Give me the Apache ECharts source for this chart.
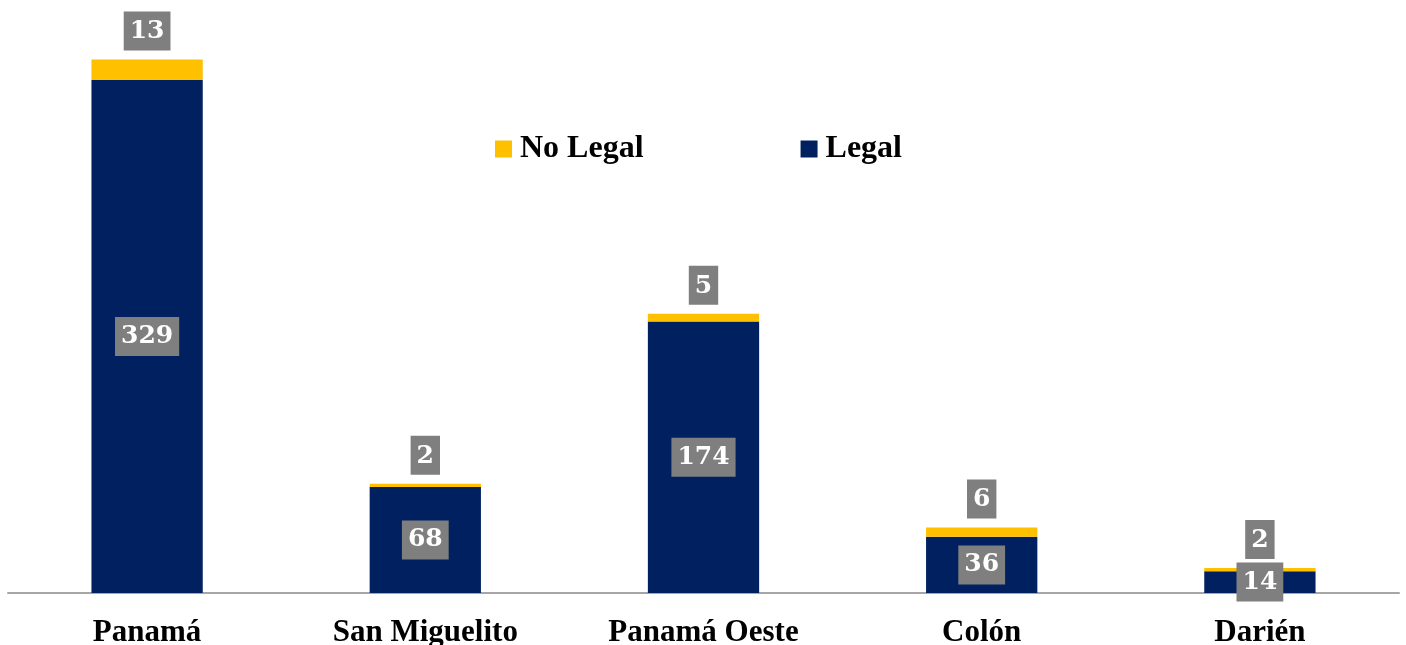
<!DOCTYPE html>
<html>
<head>
<meta charset="utf-8">
<script src="https://cdn.jsdelivr.net/npm/echarts@6/dist/echarts.min.js"></script>
<style>html,body{margin:0;padding:0;background:#fff;}#c{width:1406px;height:645px;}</style>
</head>
<body>
<div id="c"></div>
<script>
const categories = ['Panamá', 'San Miguelito', 'Panamá Oeste', 'Colón', 'Darién'];
const legalValues = [329, 68, 174, 36, 14];
const noLegalValues = [13, 2, 5, 6, 2];
const seriesNames = ['Legal', 'No Legal'];
const legendOrder = ['No Legal', 'Legal'];

const labelFont = 'DejaVu Serif';
const textFont = 'Liberation Serif';

const chart = echarts.init(document.getElementById('c'), null, {renderer: 'canvas'});
const boxLabel = {
  show: true,
  color: '#fff',
  fontFamily: labelFont,
  fontWeight: 'bold',
  fontSize: 25,
  lineHeight: 25,
  backgroundColor: '#7F7F7F',
  padding: [8, 6, 6, 6]
};
chart.setOption({
  animation: false,
  grid: {left: 8, right: 7, top: 47, bottom: 52, containLabel: false, outerBoundsMode: 'none'},
  legend: {
    data: legendOrder,
    left: 490,
    top: 128,
    icon: 'rect',
    itemWidth: 17,
    itemHeight: 17,
    itemGap: 157,
    textStyle: {fontFamily: textFont, fontWeight: 'bold', fontSize: 32, color: '#000', lineHeight: 32, padding: [0, 0, 0, 3]}
  },
  xAxis: {
    type: 'category',
    data: categories,
    axisLine: {show: true, lineStyle: {color: '#A6A6A6', width: 2}},
    axisTick: {show: false},
    axisLabel: {fontFamily: textFont, fontWeight: 'bold', fontSize: 31, color: '#000', margin: 24, interval: 0}
  },
  yAxis: {
    type: 'value',
    min: 0,
    max: 350,
    show: false,
    splitLine: {show: false}
  },
  series: [
    {
      name: seriesNames[0],
      type: 'bar',
      stack: 'total',
      data: legalValues,
      barWidth: '40%',
      itemStyle: {color: '#002060'},
      label: Object.assign({}, boxLabel, {position: 'inside'})
    },
    {
      name: seriesNames[1],
      type: 'bar',
      stack: 'total',
      data: noLegalValues,
      barWidth: '40%',
      itemStyle: {color: '#FFC000'},
      label: Object.assign({}, boxLabel, {position: 'top', distance: 9})
    }
  ]
});
</script>
</body>
</html>
